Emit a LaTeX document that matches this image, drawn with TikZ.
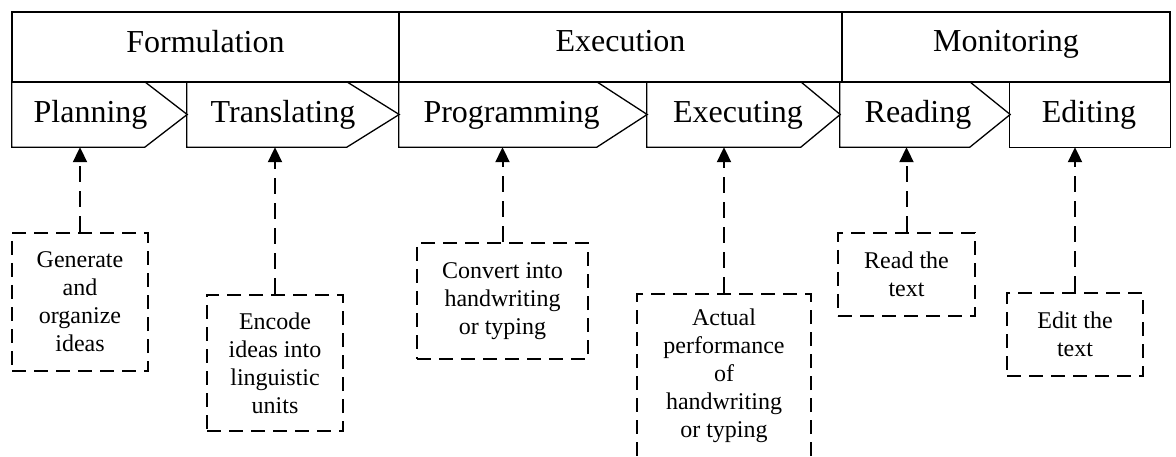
\documentclass[tikz,border=0pt]{standalone}
\usepackage{fontspec}
\setmainfont{Liberation Serif}
\usetikzlibrary{arrows.meta}

\tikzset{
  phase/.style={draw, line width=2.4pt, rectangle, inner sep=0pt, minimum height=70pt},
  stagebox/.style={draw=none, rectangle, inner sep=0pt, minimum height=65pt},
  stageline/.style={draw, line width=1.3pt, line join=miter},
  bigtext/.style={anchor=base, inner sep=0pt, font=\fontsize{32}{38}\selectfont},
  subtask/.style={draw, line width=2pt, dash pattern=on 14pt off 8pt,
    rectangle, inner sep=0pt, align=center,
    font=\fontsize{24}{28}\selectfont},
  conn/.style={line width=2pt, dash pattern=on 16pt off 9pt,
    -{Triangle[length=15pt,width=14pt]}}
}

\begin{document}
\begin{tikzpicture}[x=1pt, y=-1pt]
  \useasboundingbox (0,0) rectangle (1176,457);
  \clip (0,0) rectangle (1176,457);
  \fill[white] (0,0) rectangle (1176,457);

  % lower row: the six stages, chevrons pointing right
  \node[stagebox, minimum width=175pt] (plan)  at (99.5,114.5) {};
  \node[stagebox, minimum width=212pt] (trans) at (293,114.5) {};
  \node[stagebox, minimum width=248pt] (prog)  at (523,114.5) {};
  \node[stagebox, minimum width=193pt] (exec)  at (743.5,114.5) {};
  \node[stagebox, minimum width=170pt] (read)  at (925,114.5) {};
  \node[stagebox, minimum width=160pt] (edit)  at (1090,114.5) {};

  \draw[stageline] (plan.north west) -- ++(133,0) -- (plan.east)
    -- ([xshift=133pt]plan.south west) -- (plan.south west) -- cycle;
  \draw[stageline] (trans.north west) -- ++(160,0) -- (trans.east)
    -- ([xshift=160pt]trans.south west) -- (trans.south west) -- cycle;
  \draw[stageline] (prog.north west) -- ++(198,0) -- (prog.east)
    -- ([xshift=198pt]prog.south west) -- (prog.south west) -- cycle;
  \draw[stageline] (exec.north west) -- ++(154,0) -- (exec.east)
    -- ([xshift=154pt]exec.south west) -- (exec.south west) -- cycle;
  \draw[stageline] (read.north west) -- ++(130,0) -- (read.east)
    -- ([xshift=130pt]read.south west) -- (read.south west) -- cycle;
  \draw[stageline] (edit.north west) rectangle (edit.south east);

  \node[bigtext] (tplan)  at (90.5,123)  {Planning};
  \node[bigtext] (ttrans) at (283,123)   {Translating};
  \node[bigtext] (tprog)  at (511.5,123) {Programming};
  \node[bigtext] (texec)  at (738,123)   {Executing};
  \node[bigtext] (tread)  at (918,123)   {Reading};
  \node[bigtext] (tedit)  at (1089,123)  {Editing};

  % upper row: the three phases
  \node[phase, minimum width=387pt] (form) at (205.5,47) {};
  \node[phase, minimum width=443pt] (execp) at (620.5,47) {};
  \node[phase, minimum width=328pt] (mon) at (1006,47) {};
  \node[bigtext] (tform)  at (205.5,53) {Formulation};
  \node[bigtext] (texecp) at (620.5,52) {Execution};
  \node[bigtext] (tmon)   at (1006,52)  {Monitoring};

  % sub-tasks below each stage
  \node[subtask, minimum width=136pt, minimum height=138pt] (gen)   at (80,302)
    {Generate\\and\\organize\\ideas};
  \node[subtask, minimum width=136pt, minimum height=136pt] (enc)   at (275,363)
    {Encode\\ideas into\\linguistic\\units};
  \node[subtask, minimum width=171pt, minimum height=116pt] (conv)  at (502.5,301)
    {Convert into\\handwriting\\or typing};
  \node[subtask, minimum width=174pt, minimum height=164pt] (act)   at (724,376)
    {Actual\\performance\\of\\handwriting\\or typing};
  \node[subtask, minimum width=137pt, minimum height=83pt]  (readt) at (906.5,274.5)
    {Read the\\text};
  \node[subtask, minimum width=136pt, minimum height=83pt]  (editt) at (1075,334.5)
    {Edit the\\text};

  % dashed links from each sub-task up to its stage
  \draw[conn] (gen.north)   -- (gen.north   |- plan.south);
  \draw[conn] (enc.north)   -- (enc.north   |- trans.south);
  \draw[conn] (conv.north)  -- (conv.north  |- prog.south);
  \draw[conn] (act.north)   -- (act.north   |- exec.south);
  \draw[conn] (readt.north) -- (readt.north |- read.south);
  \draw[conn] (editt.north) -- (editt.north |- edit.south);
\end{tikzpicture}
\end{document}
